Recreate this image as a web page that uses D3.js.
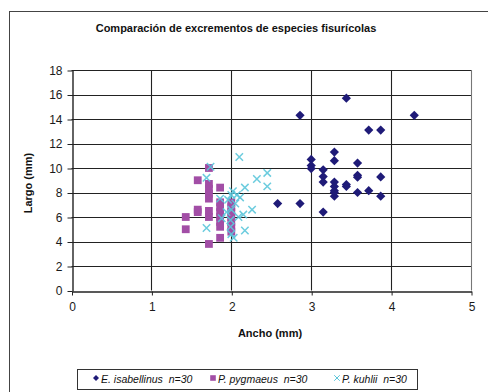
<!DOCTYPE html>
<html>
<head>
<meta charset="utf-8">
<script src="https://cdn.jsdelivr.net/npm/d3@7"></script>
<style>
  body { margin: 0; background: #fff; }
  svg { display: block; font-family: Arial, "Liberation Sans", sans-serif; }
</style>
</head>
<body>
<div id="chart"></div>
<script>
// Comparación de excrementos – scatter of width (Ancho) vs length (Largo)

const xTicks = [0, 1, 2, 3, 4, 5];
const yTicks = [0, 2, 4, 6, 8, 10, 12, 14, 16, 18];

// E. isabellinus [ancho, largo]
const isabellinus = [
  [3.44, 15.7], [2.86, 14.3], [4.29, 14.3], [3.72, 13.1], [3.87, 13.1],
  [3.29, 11.3], [3.29, 10.6], [3.0, 10.7], [3.0, 10.2], [3.0, 9.95],
  [3.58, 10.4], [3.15, 9.85], [3.15, 9.3], [3.15, 8.85], [3.58, 9.4],
  [3.58, 9.25], [3.87, 9.27], [3.29, 8.85], [3.29, 8.5], [3.29, 8.15],
  [3.44, 8.65], [3.44, 8.5], [3.29, 7.7], [3.58, 8.0], [3.72, 8.15],
  [3.87, 7.7], [2.58, 7.1], [2.86, 7.1], [3.15, 6.4], [3.29, 8.0]
];

// P. pygmaeus
const pygmaeus = [
  [1.72, 10.0], [1.58, 9.0], [1.72, 8.7], [1.72, 8.3], [1.72, 7.9],
  [1.72, 7.5], [1.86, 8.4], [1.86, 7.2], [1.86, 6.8], [1.86, 6.4],
  [1.86, 6.0], [1.86, 5.6], [1.86, 5.2], [1.86, 4.3], [1.58, 6.4],
  [1.72, 6.5], [1.72, 6.0], [1.43, 6.0], [1.43, 5.0], [1.72, 3.8],
  [2.0, 7.2], [2.0, 6.8], [2.0, 6.4], [2.0, 6.0], [2.0, 5.6],
  [2.0, 5.2], [2.0, 4.8], [1.58, 6.6]
];

// P. kuhlii
const kuhlii = [
  [2.10, 10.9], [1.74, 10.1], [1.69, 9.2], [2.32, 9.1], [2.45, 9.6],
  [2.45, 8.5], [2.17, 8.4], [2.02, 8.1], [2.07, 7.8], [2.11, 7.6],
  [1.96, 7.4], [2.26, 6.6], [2.15, 6.2], [2.09, 6.0], [1.94, 6.4],
  [1.88, 5.9], [1.69, 5.1], [1.99, 5.2], [2.17, 4.9], [2.03, 4.3],
  [1.99, 5.75], [2.0, 7.8], [1.86, 7.5], [2.0, 6.6], [2.0, 4.6],
  [2.05, 7.1]
];

const series = [
  { name: "E. isabellinus", n: "n=30", data: isabellinus, color: "#1f1b78", shape: "diamond" },
  { name: "P. pygmaeus", n: "n=30", data: pygmaeus, color: "#a24ea6", shape: "square" },
  { name: "P. kuhlii", n: "n=30", data: kuhlii, color: "#5cc6da", shape: "cross" }
];

const width = 488, height = 392;
const svg = d3.select("#chart").append("svg")
  .attr("width", width)
  .attr("height", height);

// outer chart frame
svg.append("rect")
  .attr("x", 9.5).attr("y", 11.5)
  .attr("width", 485).attr("height", 395)
  .attr("fill", "none")
  .attr("stroke", "#444")
  .attr("stroke-width", 1);

const x = d3.scaleLinear().domain([0, 5]).range([71.5, 471]);
const y = d3.scaleLinear().domain([0, 18]).range([290.5, 70]);

// gridlines
svg.append("g")
  .selectAll("line")
  .data(yTicks.slice(1))
  .join("line")
  .attr("x1", x(0)).attr("x2", x(5))
  .attr("y1", d => Math.round(y(d)) + 0.5).attr("y2", d => Math.round(y(d)) + 0.5)
  .attr("stroke", "#222")
  .attr("stroke-width", 1.1);

svg.append("g")
  .selectAll("line")
  .data(xTicks.slice(1))
  .join("line")
  .attr("y1", y(0)).attr("y2", y(18))
  .attr("x1", d => Math.round(x(d)) + 0.5).attr("x2", d => Math.round(x(d)) + 0.5)
  .attr("stroke", d => d === 5 ? "#777" : "#222")
  .attr("stroke-width", 1.1);

// axes
const xAxis = svg.append("g")
  .attr("transform", `translate(0.5,${Math.round(y(0)) + 0.5})`)
  .call(d3.axisBottom(x).tickValues(xTicks).tickFormat(d3.format("d"))
    .tickSize(4).tickPadding(7).tickSizeOuter(0));
const yAxis = svg.append("g")
  .attr("transform", `translate(${Math.round(x(0)) + 0.5},0.5)`)
  .call(d3.axisLeft(y).tickValues(yTicks).tickFormat(d3.format("d"))
    .tickSize(5).tickPadding(5).tickSizeOuter(0));

[xAxis, yAxis].forEach(g => {
  g.select(".domain").attr("stroke", "#222").attr("stroke-width", 1.4);
  g.selectAll(".tick line").attr("stroke", "#222");
  g.selectAll(".tick text")
    .attr("fill", "#1a1a1a")
    .style("font-size", "12px")
    .style("font-family", "Arial, 'Liberation Sans', sans-serif");
});

// marker shapes
function markerPath(shape, s) {
  if (shape === "diamond") return `M0,${-s}L${s},0L0,${s}L${-s},0Z`;
  if (shape === "square") return `M${-s},${-s}H${s}V${s}H${-s}Z`;
  return `M${-s},${-s}L${s},${s}M${-s},${s}L${s},${-s}`;
}

series.forEach(sr => {
  const size = sr.shape === "diamond" ? 4.6 : (sr.shape === "square" ? 3.9 : 3.7);
  svg.append("g")
    .selectAll("path")
    .data(sr.data)
    .join("path")
    .attr("transform", d => `translate(${x(d[0])},${y(d[1])})`)
    .attr("d", markerPath(sr.shape, size))
    .attr("fill", sr.shape === "cross" ? "none" : sr.color)
    .attr("stroke", sr.shape === "cross" ? sr.color : "none")
    .attr("stroke-width", 1.5)
    .attr("opacity", sr.shape === "cross" ? 0.9 : 1);
});

// title
svg.append("text")
  .attr("x", 236).attr("y", 32)
  .attr("text-anchor", "middle")
  .style("font-size", "11px")
  .style("font-weight", "bold")
  .attr("fill", "#111")
  .text("Comparación de excrementos de especies fisurícolas");

// axis titles
svg.append("text")
  .attr("x", 270).attr("y", 337)
  .attr("text-anchor", "middle")
  .style("font-size", "11px")
  .style("font-weight", "bold")
  .attr("fill", "#111")
  .text("Ancho (mm)");

svg.append("text")
  .attr("transform", "translate(32,183) rotate(-90)")
  .attr("text-anchor", "middle")
  .style("font-size", "11px")
  .style("font-weight", "bold")
  .attr("fill", "#111")
  .text("Largo (mm)");

// legend
const legend = svg.append("g");
legend.append("rect")
  .attr("x", 77.5).attr("y", 369.5)
  .attr("width", 340).attr("height", 20)
  .attr("fill", "#fff")
  .attr("stroke", "#333");

const legendX = [96, 213, 337];
series.forEach((sr, i) => {
  const g = legend.append("g").attr("transform", `translate(${legendX[i]},378)`);
  g.append("path")
    .attr("d", markerPath(sr.shape, sr.shape === "diamond" ? 3 : 2.8))
    .attr("fill", sr.shape === "cross" ? "none" : sr.color)
    .attr("stroke", sr.shape === "cross" ? sr.color : "none")
    .attr("stroke-width", 1);
  g.append("text")
    .attr("x", 5).attr("y", 5)
    .style("font-size", "10.5px")
    .style("font-style", "italic")
    .attr("fill", "#111")
    .attr("xml:space", "preserve")
    .text(`${sr.name}  ${sr.n}`);
});
</script>
</body>
</html>
